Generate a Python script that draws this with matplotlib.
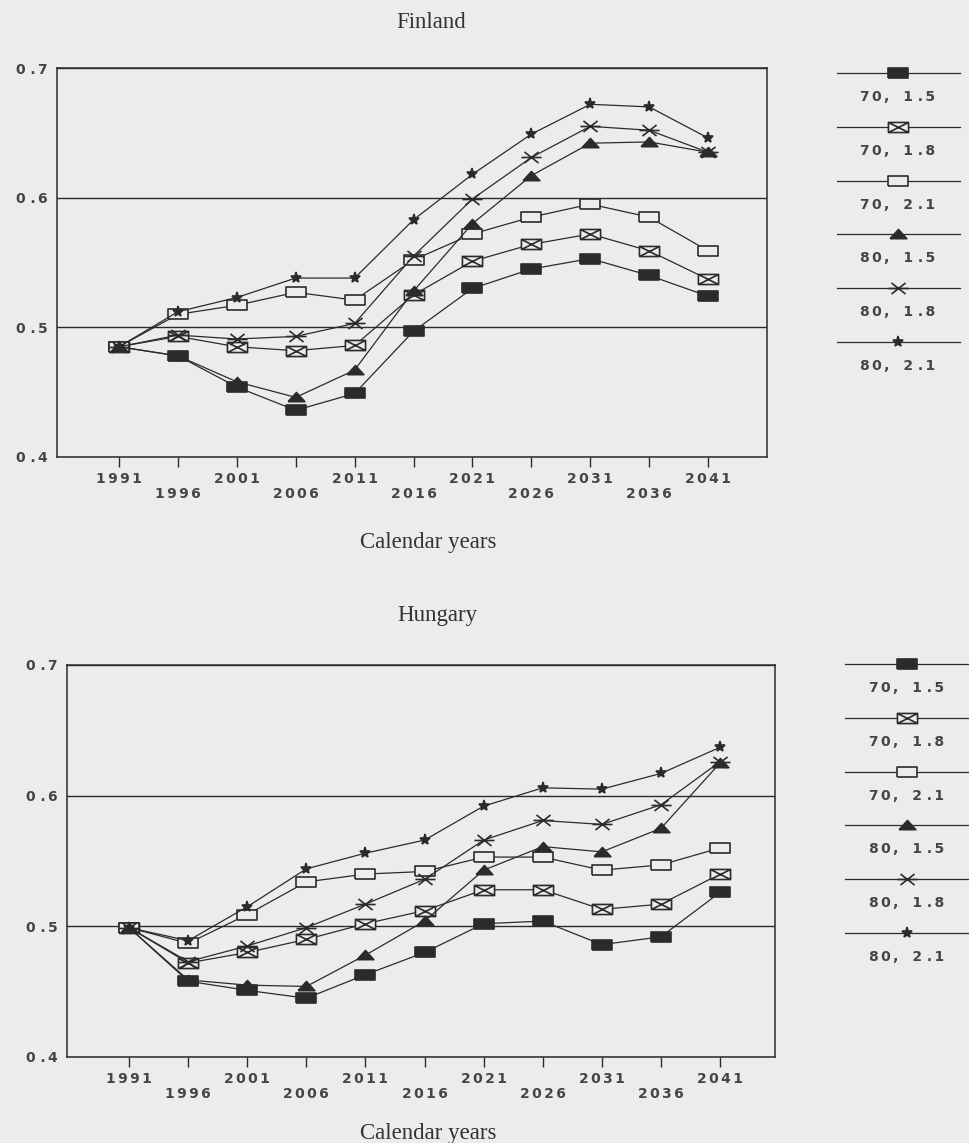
import matplotlib
matplotlib.use('Agg')
import matplotlib.pyplot as plt
from matplotlib.path import Path
from matplotlib.markers import MarkerStyle

# projection years and the six scenarios (e0, TFR)
years = [1991, 1996, 2001, 2006, 2011, 2016, 2021, 2026, 2031, 2036, 2041]
scenarios = ['70, 1.5', '70, 1.8', '70, 2.1', '80, 1.5', '80, 1.8', '80, 2.1']

fin_70_15 = [0.485, 0.478, 0.454, 0.436, 0.449, 0.497, 0.530, 0.545, 0.553, 0.540, 0.524]
fin_70_18 = [0.485, 0.493, 0.485, 0.482, 0.486, 0.525, 0.551, 0.564, 0.572, 0.559, 0.537]
fin_70_21 = [0.485, 0.510, 0.517, 0.527, 0.521, 0.552, 0.572, 0.585, 0.595, 0.585, 0.559]
fin_80_15 = [0.485, 0.478, 0.458, 0.446, 0.467, 0.528, 0.580, 0.617, 0.642, 0.643, 0.635]
fin_80_18 = [0.485, 0.494, 0.491, 0.493, 0.503, 0.555, 0.599, 0.631, 0.655, 0.652, 0.635]
fin_80_21 = [0.485, 0.512, 0.523, 0.538, 0.538, 0.583, 0.618, 0.649, 0.672, 0.670, 0.646]

hun_70_15 = [0.499, 0.458, 0.451, 0.445, 0.463, 0.480, 0.502, 0.504, 0.486, 0.492, 0.526]
hun_70_18 = [0.499, 0.472, 0.480, 0.490, 0.502, 0.512, 0.528, 0.528, 0.513, 0.517, 0.540]
hun_70_21 = [0.499, 0.487, 0.509, 0.534, 0.540, 0.542, 0.553, 0.553, 0.543, 0.547, 0.560]
hun_80_15 = [0.499, 0.459, 0.455, 0.454, 0.478, 0.504, 0.543, 0.561, 0.557, 0.575, 0.625]
hun_80_18 = [0.499, 0.473, 0.485, 0.499, 0.517, 0.536, 0.566, 0.581, 0.578, 0.593, 0.626]
hun_80_21 = [0.499, 0.489, 0.515, 0.544, 0.556, 0.566, 0.592, 0.606, 0.605, 0.617, 0.637]

yticks = [0.4, 0.5, 0.6, 0.7]

W, H = 969, 1143
BG = '#ececec'
INK = '#2b2b2b'
TXT = '#454545'

M, L = Path.MOVETO, Path.LINETO
rect = Path([(-1, -0.5), (1, -0.5), (1, 0.5), (-1, 0.5), (-1, -0.5)], [M, L, L, L, L])
boxx = Path([(-1, -0.5), (1, -0.5), (1, 0.5), (-1, 0.5), (-1, -0.5),
             (-1, -0.5), (1, 0.5), (-1, 0.5), (1, -0.5)],
            [M, L, L, L, L, M, L, M, L])
tri = Path([(-1, -0.5), (1, -0.5), (0, 0.6), (-1, -0.5)], [M, L, L, L])
aster = Path([(-1, 0), (1, 0), (-0.7, -0.55), (0.7, 0.55), (-0.7, 0.55), (0.7, -0.55)],
             [M, L, M, L, M, L])


def mk(p):
    return MarkerStyle(p, joinstyle='miter')


styles = [
    dict(marker=mk(rect), ms=14.5, mfc=INK, mec=INK),
    dict(marker=mk(boxx), ms=14.5, mfc=BG, mec=INK),
    dict(marker=mk(rect), ms=14.5, mfc=BG, mec=INK),
    dict(marker=mk(tri), ms=12, mfc=INK, mec=INK),
    dict(marker=aster, ms=14.5, mfc='none', mec=INK),
    dict(marker='*', ms=8, mfc=INK, mec=INK),
]

TICKFONT = dict(fontsize=10, fontweight='bold')


def spread(s):
    out = ''
    for c in s:
        if c == '.':
            out += '\u2006.\u2006'
        else:
            out += c + '\u2006'
    return out.rstrip('\u2006')


fig = plt.figure(figsize=(W / 100, H / 100), dpi=100, facecolor=BG)


def px_axes(left, top, right, bottom):
    return fig.add_axes([left / W, 1 - bottom / H, (right - left) / W, (bottom - top) / H])


def panel(ax, series, xlim):
    for vals, st in zip(series, styles):
        ax.plot(years, vals, color=INK, lw=0.9, mew=1.2, **st)
    ax.set_facecolor(BG)
    ax.set_xlim(*xlim)
    ax.set_ylim(0.4, 0.7)
    ax.set_yticks(yticks, labels=[spread('%.1f' % v) for v in yticks], **TICKFONT)
    ax.set_xticks(years[::2], labels=[spread(str(y)) for y in years[::2]], **TICKFONT)
    ax.set_xticks(years[1::2], labels=[spread(str(y)) for y in years[1::2]], minor=True, **TICKFONT)
    ax.grid(axis='y', color=INK, lw=1.0)
    ax.tick_params(axis='y', length=0, pad=7, labelcolor=TXT)
    ax.tick_params(axis='x', which='both', direction='out', length=7, width=1.0,
                   color=INK, labelcolor=TXT)
    ax.tick_params(axis='x', which='major', pad=4)
    ax.tick_params(axis='x', which='minor', pad=14.5)
    for s in ax.spines.values():
        s.set_color(INK)
        s.set_linewidth(1.1)


ax1 = px_axes(57, 68, 767, 457)
panel(ax1, [fin_70_15, fin_70_18, fin_70_21, fin_80_15, fin_80_18, fin_80_21], (1985.74, 2046.0))
ax2 = px_axes(67, 665, 775, 1057)
panel(ax2, [hun_70_15, hun_70_18, hun_70_21, hun_80_15, hun_80_18, hun_80_21], (1985.75, 2045.65))

serif = dict(family='Liberation Serif', fontsize=16.5, color='#333333', ha='center', va='baseline')
fig.text(431 / W, 1 - 28 / H, 'Finland', **serif)
fig.text(428 / W, 1 - 548 / H, 'Calendar years', **serif)
fig.text(437 / W, 1 - 621 / H, 'Hungary', **serif)
fig.text(428 / W, 1 - 1139 / H, 'Calendar years', **serif)

# legends: line sample above each label
lg = fig.add_axes([0, 0, 1, 1], facecolor='none')
lg.set_xlim(0, W)
lg.set_ylim(H, 0)
lg.axis('off')
for x0, x1, xm, y0 in [(837, 960, 898, 73), (845, 975, 907, 664)]:
    for i, (name, st) in enumerate(zip(scenarios, styles)):
        y = y0 + i * 53.8
        lg.plot([x0, x1], [y, y], color=INK, lw=0.9)
        lg.plot([xm], [y], color=INK, mew=1.2, **st)
        lg.text(xm, y + 24, spread(name[:3]) + '\u2002\u2002' + spread(name[4:]),
                ha='center', va='center', color=TXT, **TICKFONT)

fig.savefig('out.png', dpi=100, facecolor=BG)
